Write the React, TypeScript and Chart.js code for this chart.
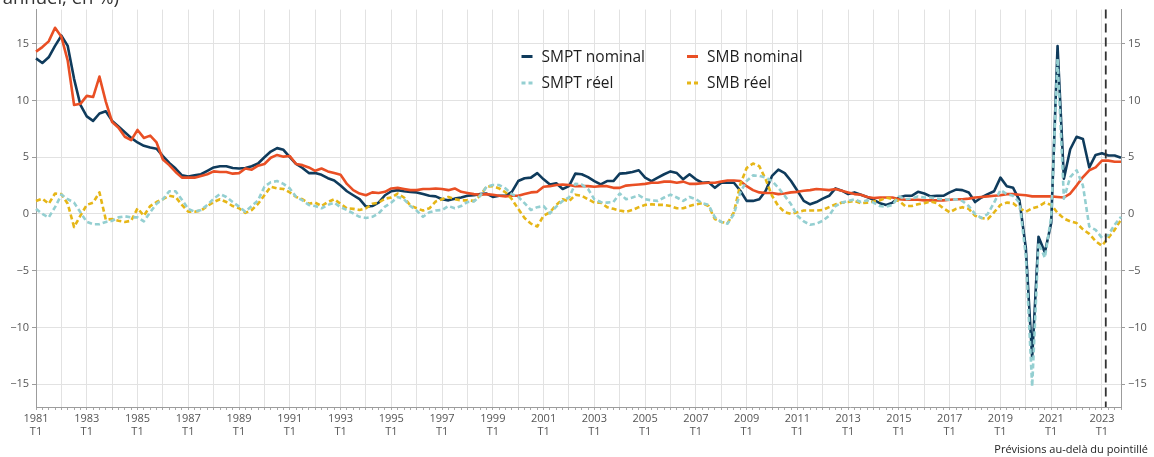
import React, { useEffect, useRef } from 'react';
import { Chart, registerables } from 'chart.js';

Chart.register(...registerables);

// ---- Data (quarterly, 1981 T1 -> 2023 T4) ----
const START_YEAR = 1981;
const N_QUARTERS = 172;
const categories: string[] = Array.from({ length: N_QUARTERS }, (_, i) => `${START_YEAR + Math.floor(i / 4)} T${(i % 4) + 1}`);

const smptNominal = [
  13.7, 13.3, 13.8, 14.8, 15.7, 14.8, 11.9, 9.6, 8.6, 8.2, 8.85, 9.05, 8.2, 7.7, 7.2, 6.7,
  6.3, 6.0, 5.85, 5.75, 5.1, 4.5, 4.0, 3.4, 3.3, 3.4, 3.5, 3.8, 4.1, 4.2, 4.2, 4.05,
  4.0, 4.05, 4.2, 4.45, 5.0, 5.5, 5.8, 5.65, 5.0, 4.4, 4.05, 3.6, 3.6, 3.45, 3.15, 2.95,
  2.5, 2.0, 1.65, 1.3, 0.65, 0.7, 1.0, 1.65, 2.0, 2.1, 2.0, 1.95, 1.9, 1.75, 1.6, 1.55,
  1.3, 1.2, 1.35, 1.45, 1.6, 1.65, 1.75, 1.8, 1.5, 1.6, 1.6, 1.95, 2.9, 3.15, 3.2, 3.6,
  3.05, 2.6, 2.7, 2.2, 2.45, 3.55, 3.5, 3.25, 2.9, 2.6, 2.9, 2.9, 3.55, 3.6, 3.7, 3.85,
  3.2, 2.9, 3.2, 3.5, 3.75, 3.6, 3.05, 3.5, 3.05, 2.75, 2.8, 2.3, 2.75, 2.75, 2.75, 2.05,
  1.15, 1.15, 1.3, 2.05, 3.35, 3.9, 3.6, 2.9, 2.05, 1.15, 0.85, 1.05, 1.35, 1.6, 2.25, 2.05,
  1.75, 1.9, 1.7, 1.5, 1.25, 0.95, 0.8, 1.0, 1.45, 1.6, 1.6, 1.95, 1.8, 1.55, 1.6, 1.6,
  1.9, 2.15, 2.1, 1.9, 1.05, 1.45, 1.75, 2.0, 3.2, 2.45, 2.3, 1.2, -3.0, -12.7, -2.0, -3.4,
  -0.8, 14.8, 3.1, 5.7, 6.8, 6.6, 4.1, 5.2, 5.35, 5.15, 5.15, 4.95,
];

const smbNominal = [
  14.3, 14.7, 15.2, 16.4, 15.6, 13.5, 9.6, 9.7, 10.4, 10.3, 12.1, 9.9, 8.1, 7.6, 6.8, 6.5,
  7.4, 6.7, 6.9, 6.3, 4.8, 4.3, 3.7, 3.2, 3.2, 3.2, 3.35, 3.5, 3.75, 3.7, 3.7, 3.55,
  3.6, 4.0, 3.9, 4.25, 4.4, 4.95, 5.2, 5.05, 5.1, 4.4, 4.3, 4.1, 3.8, 4.0, 3.75, 3.6,
  3.45, 2.65, 2.1, 1.8, 1.65, 1.9, 1.85, 1.95, 2.25, 2.3, 2.2, 2.1, 2.1, 2.2, 2.2, 2.25,
  2.2, 2.1, 2.25, 1.95, 1.85, 1.75, 1.7, 1.75, 1.7, 1.6, 1.55, 1.6, 1.6, 1.75, 1.9, 1.95,
  2.4, 2.45, 2.55, 2.6, 2.55, 2.45, 2.45, 2.45, 2.4, 2.45, 2.45, 2.3, 2.3, 2.5, 2.55, 2.6,
  2.65, 2.75, 2.75, 2.85, 2.85, 2.75, 2.85, 2.65, 2.65, 2.7, 2.75, 2.75, 2.85, 2.95, 2.95, 2.9,
  2.45, 2.1, 1.9, 1.85, 1.85, 1.75, 1.8, 1.9, 1.95, 2.05, 2.1, 2.2, 2.15, 2.1, 2.2, 2.05,
  1.9, 1.75, 1.7, 1.5, 1.4, 1.45, 1.45, 1.45, 1.3, 1.25, 1.25, 1.25, 1.2, 1.2, 1.2, 1.2,
  1.25, 1.3, 1.3, 1.35, 1.45, 1.5, 1.55, 1.6, 1.65, 1.75, 1.75, 1.7, 1.65, 1.55, 1.55, 1.55,
  1.55, 1.5, 1.45, 1.8, 2.5, 3.25, 3.85, 4.1, 4.7, 4.7, 4.6, 4.6,
];

const smptReel = [
  0.45, 0.0, -0.3, 0.6, 1.7, 1.3, 1.0, 0.15, -0.7, -0.9, -0.9, -0.7, -0.6, -0.3, -0.2, -0.3,
  -0.3, -0.65, 0.15, 0.9, 1.3, 2.0, 2.0, 1.25, 0.45, 0.2, 0.35, 0.8, 1.35, 1.75, 1.5, 1.05,
  0.65, 0.2, 0.7, 1.2, 2.4, 2.8, 2.9, 2.65, 2.25, 1.5, 1.2, 0.8, 0.7, 0.5, 0.8, 1.0,
  0.6, 0.35, 0.05, -0.25, -0.35, -0.25, 0.05, 0.65, 1.0, 1.5, 1.3, 0.7, 0.3, -0.25, 0.15, 0.3,
  0.35, 0.7, 0.5, 0.7, 1.05, 1.1, 1.6, 2.4, 2.55, 2.55, 2.25, 1.75, 1.5, 0.95, 0.35, 0.6,
  0.7, 0.05, 0.65, 1.15, 1.45, 2.65, 2.6, 2.2, 1.3, 1.05, 1.0, 1.05, 1.8, 1.3, 1.45, 1.65,
  1.3, 1.2, 1.15, 1.45, 1.7, 1.45, 1.15, 1.5, 1.3, 0.95, 0.8, -0.3, -0.7, -0.85, 0.0, 1.9,
  2.9, 3.4, 3.35, 3.2, 2.9, 2.3, 1.6, 0.85, -0.15, -0.65, -0.95, -0.85, -0.6, -0.15, 0.7, 1.0,
  1.15, 1.3, 1.05, 1.2, 1.0, 0.7, 0.65, 0.8, 1.55, 1.3, 1.35, 1.55, 1.45, 1.45, 1.35, 1.3,
  1.25, 1.3, 1.15, 0.7, 0.0, -0.35, 0.0, 1.0, 2.1, 1.75, 1.6, 1.0, -3.7, -15.2, -2.55, -3.85,
  -0.25, 13.7, 1.35, 3.25, 3.85, 2.5, -1.1, -1.4, -2.1, -1.85, -0.95, -0.25,
];

const smbReel = [
  1.15, 1.35, 0.9, 1.8, 1.75, 0.9, -1.15, -0.15, 0.8, 1.0, 1.9, -0.5, -0.45, -0.6, -0.7, -0.6,
  0.5, -0.15, 0.7, 1.05, 1.3, 1.6, 1.5, 0.8, 0.2, 0.2, 0.3, 0.7, 1.05, 1.3, 1.05, 0.7,
  0.5, 0.1, 0.35, 0.9, 1.65, 2.4, 2.25, 2.2, 1.9, 1.5, 1.3, 0.9, 1.0, 0.7, 1.05, 1.3,
  0.9, 0.5, 0.45, 0.35, 0.5, 0.9, 1.0, 1.35, 1.45, 1.8, 1.45, 0.75, 0.5, 0.3, 0.5, 1.1,
  1.3, 1.5, 1.3, 1.2, 1.2, 1.15, 1.6, 2.4, 2.45, 2.25, 1.9, 1.3, 0.45, -0.35, -0.85, -1.1,
  -0.15, 0.15, 0.8, 1.3, 1.1, 1.7, 1.6, 1.3, 1.0, 1.0, 0.6, 0.45, 0.3, 0.2, 0.35, 0.6,
  0.8, 0.85, 0.8, 0.8, 0.7, 0.5, 0.5, 0.7, 0.85, 0.95, 0.7, -0.45, -0.7, -0.8, 0.15, 2.6,
  4.05, 4.45, 4.2, 3.05, 1.6, 0.7, 0.15, 0.0, 0.15, 0.3, 0.3, 0.3, 0.35, 0.6, 0.85, 1.0,
  1.05, 1.15, 0.95, 1.0, 1.1, 1.2, 1.45, 1.3, 1.15, 0.7, 0.7, 0.85, 0.95, 1.1, 0.95, 0.5,
  0.15, 0.45, 0.6, 0.45, -0.15, -0.35, -0.45, 0.15, 0.8, 1.0, 0.95, 0.5, 0.2, 0.5, 0.65, 1.0,
  0.8, 0.1, -0.4, -0.65, -0.8, -1.35, -1.75, -2.4, -2.8, -2.1, -1.4, -0.5,
];

const yTickValues = [-15, -10, -5, 0, 5, 10, 15];
const forecastStartIndex = 168.6; // position of the dashed "forecast" line (in quarters from 1981 T1)
const titleText = '(glissement annuel, en %)';
const footnoteText = 'Prévisions au-delà du pointillé';

const NAVY = '#0f3b5c';
const ORANGE = '#e94f24';
const TEAL = '#94cfd1';
const YELLOW = '#e6b617';
const FONT = "'Open Sans', 'Noto Sans', sans-serif";

const legendItems = [
  { label: 'SMPT nominal', color: NAVY, dashed: false, col: 0, row: 0 },
  { label: 'SMB nominal', color: ORANGE, dashed: false, col: 1, row: 0 },
  { label: 'SMPT réel', color: TEAL, dashed: true, col: 0, row: 1 },
  { label: 'SMB réel', color: YELLOW, dashed: true, col: 1, row: 1 },
];

const fmt = (v: number) => (v < 0 ? '\u2212' + Math.abs(v) : String(v));

const decorPlugin = {
  id: 'decor',
  afterDatasetsDraw(chart: any) {
    const { ctx, chartArea, scales } = chart;
    const xs = scales.x;
    const base = Math.floor(forecastStartIndex);
    const frac = forecastStartIndex - base;
    const px = xs.getPixelForValue(base) + frac * (xs.getPixelForValue(base + 1) - xs.getPixelForValue(base));
    ctx.save();
    ctx.strokeStyle = '#333333';
    ctx.lineWidth = 1.8;
    ctx.setLineDash([9, 5]);
    ctx.beginPath();
    ctx.moveTo(px, chartArea.top);
    ctx.lineTo(px, chartArea.bottom);
    ctx.stroke();
    ctx.restore();
  },
  afterDraw(chart: any) {
    const { ctx } = chart;
    ctx.save();
    // title (cropped at top-left as in reference)
    ctx.fillStyle = '#333333';
    ctx.font = `18.5px ${FONT}`;
    ctx.textAlign = 'right';
    ctx.textBaseline = 'alphabetic';
    ctx.fillText(titleText, 119, 4);
    // footnote
    ctx.font = `11px ${FONT}`;
    ctx.fillStyle = '#222222';
    ctx.textAlign = 'right';
    ctx.fillText(footnoteText, 1148, 453);
    // legend
    const colX = [521.5, 687];
    const rowY = [56.5, 83];
    ctx.font = `15.5px ${FONT}`;
    ctx.textAlign = 'left';
    ctx.textBaseline = 'middle';
    legendItems.forEach((it) => {
      const x = colX[it.col];
      const y = rowY[it.row];
      ctx.strokeStyle = it.color;
      ctx.lineWidth = 3;
      ctx.setLineDash(it.dashed ? [4, 3] : []);
      ctx.beginPath();
      ctx.moveTo(x, y);
      ctx.lineTo(x + 11, y);
      ctx.stroke();
      ctx.setLineDash([]);
      ctx.fillStyle = '#1e1e1e';
      ctx.fillText(it.label, x + 20, y + 1);
    });
    ctx.restore();
  },
};

export default function App() {
  const ref = useRef<HTMLCanvasElement>(null);
  useEffect(() => {
    const canvas = ref.current;
    if (!canvas) return;
    const tickFont = { family: FONT, size: 11 };
    const chart = new Chart(canvas, {
      type: 'line',
      data: {
        labels: categories,
        datasets: [
          { label: 'SMPT nominal', data: smptNominal, borderColor: NAVY, borderWidth: 2.6, order: 3 },
          { label: 'SMB nominal', data: smbNominal, borderColor: ORANGE, borderWidth: 2.6, order: 2 },
          { label: 'SMPT réel', data: smptReel, borderColor: TEAL, borderWidth: 2.6, borderDash: [5, 3], order: 0 },
          { label: 'SMB réel', data: smbReel, borderColor: YELLOW, borderWidth: 2.6, borderDash: [5, 3], order: 1 },
        ] as any,
      },
      options: {
        responsive: false,
        animation: false,
        devicePixelRatio: 1,
        layout: { padding: { top: 7, left: 0, right: 0, bottom: 0 } },
        elements: { point: { radius: 0 }, line: { tension: 0, borderJoinStyle: 'round', borderCapStyle: 'butt' } },
        plugins: { legend: { display: false }, tooltip: { enabled: false }, title: { display: false } },
        scales: {
          x: {
            type: 'category',
            offset: false,
            grid: {
              color: (c: any) => (c.index % 4 === 0 ? '#e2e2e2' : 'rgba(0,0,0,0)'),
              tickColor: '#a8a8a8',
              tickLength: 3,
              lineWidth: 1,
            },
            border: { color: '#9c9c9c' },
            ticks: {
              autoSkip: false,
              maxRotation: 0,
              minRotation: 0,
              padding: 2,
              font: tickFont,
              color: '#555555',
              callback: (_v: any, i: number) => (i % 8 === 0 ? [String(START_YEAR + i / 4), 'T1'] : ''),
            },
            afterFit: (s: any) => { s.height = 50; },
          },
          y: {
            position: 'left',
            min: -17,
            max: 18,
            afterBuildTicks: (s: any) => { s.ticks = yTickValues.map((v) => ({ value: v })); },
            grid: { color: '#e2e2e2', tickColor: '#9c9c9c', tickLength: 4 },
            border: { color: '#9c9c9c' },
            ticks: { font: tickFont, color: '#555555', padding: 3, callback: (v: any) => fmt(Number(v)) },
            afterFit: (s: any) => { s.width = 36; },
          },
          y2: {
            position: 'right',
            min: -17,
            max: 18,
            afterBuildTicks: (s: any) => { s.ticks = yTickValues.map((v) => ({ value: v })); },
            grid: { drawOnChartArea: false, tickColor: '#9c9c9c', tickLength: 4 },
            border: { color: '#9c9c9c' },
            ticks: { font: tickFont, color: '#555555', padding: 3, callback: (v: any) => fmt(Number(v)) },
            afterFit: (s: any) => { s.width = 33; },
          },
        },
      } as any,
      plugins: [decorPlugin],
    });
    return () => chart.destroy();
  }, []);
  return (
    <div style={{ position: 'absolute', left: 0, top: 0, width: 1154, height: 457, background: '#ffffff' }}>
      <canvas ref={ref} width={1154} height={457} style={{ display: 'block', width: 1154, height: 457 }} />
    </div>
  );
}
